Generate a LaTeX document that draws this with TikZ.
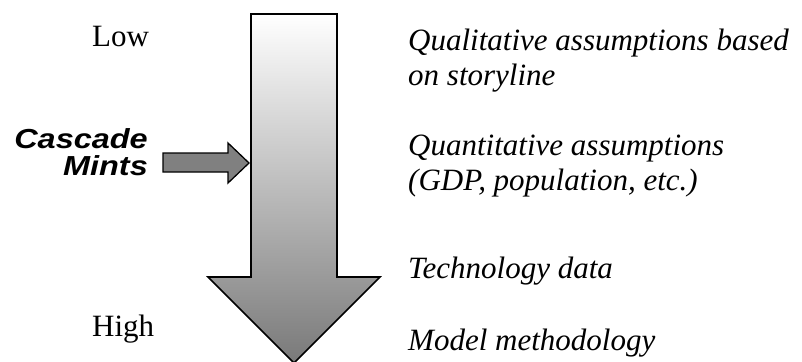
\documentclass[tikz,border=0pt]{standalone}
\usepackage{fontspec}
\setmainfont{Liberation Serif}
\newfontfamily\cascfont[FakeStretch=1.18]{Liberation Sans}
\begin{document}
\begin{tikzpicture}[x=1pt,y=-1pt,
  lbl/.style={inner sep=0pt,anchor=base west,font=\fontsize{31}{34}\selectfont},
  desc/.style={inner sep=0pt,anchor=base west,align=left,font=\fontsize{31}{34.5}\selectfont\itshape},
  casc/.style={inner sep=0pt,anchor=base east,align=right,font=\fontsize{27.5}{27}\selectfont\cascfont\bfseries\itshape},
  outline/.style={draw=black,line width=1.6pt,line join=miter}]
\useasboundingbox (0,0) rectangle (802,361);
% big gradient arrow
\path[outline,top color=white,bottom color=gray!95!black]
  (251,14) -- (337,14) -- (337,277) -- (380,277) -- (294,363) -- (208,277) -- (251,277) -- cycle;
% small arrow
\path[outline,fill=gray!100,line width=1.3pt]
  (163,153) -- (228,153) -- (228,143) -- (249,163) -- (228,183) -- (228,172) -- (163,172) -- cycle;
\node[lbl] (low) at (92,47) {Low};
\node[lbl] (high) at (92,336) {High};
\node[casc] (cm) at (148,175) {Cascade\\Mints};
\node[desc] (d1) at (408,85) {Qualitative assumptions based\\on storyline};
\node[desc] (d2) at (408,190) {Quantitative assumptions\\(GDP, population, etc.)};
\node[desc] (d3) at (408,278) {Technology data};
\node[desc] (d4) at (408,350) {Model methodology};
\end{tikzpicture}
\end{document}
